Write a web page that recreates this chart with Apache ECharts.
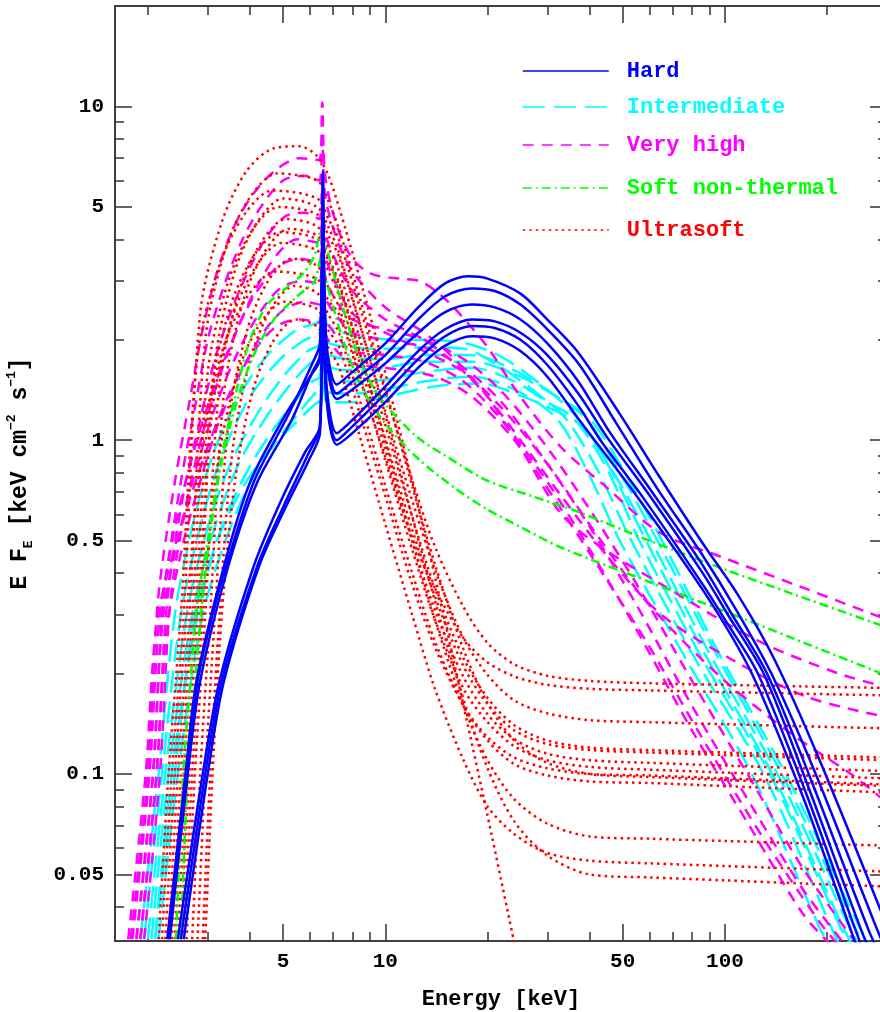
<!DOCTYPE html>
<html>
<head>
<meta charset="utf-8">
<title>Spectral states</title>
<script src="https://cdn.jsdelivr.net/npm/echarts@6/dist/echarts.min.js"></script>
<style>
  html, body { margin: 0; background: #fff; }
  #chart { width: 880px; height: 1012px; }
</style>
</head>
<body>
<div id="chart"></div>
<script>
// energy [keV], E F_E [keV cm^-2 s^-1]
const hardSpectra = [
  [[2.3,0.032],[2.6,0.1],[2.8,0.19],[3.1,0.3],[3.4,0.42],[4.1,0.75],[5.2,1.2],[6.1,1.7],[6.42,1.95],[6.55,6.4],[6.7,2.0],[7.2,1.47],[8,1.6],[10,1.95],[12.5,2.5],[15,2.95],[17.5,3.1],[20,3.05],[25,2.75],[30,2.3],[37,1.83],[49,1.2],[64,0.78],[85,0.5],[110,0.34],[140,0.22],[190,0.11],[300,0.035]],
  [[2.32,0.032],[2.62,0.1],[2.85,0.19],[3.45,0.42],[4.2,0.75],[5.3,1.15],[6.1,1.6],[6.42,1.8],[6.55,5.0],[6.7,1.9],[7.2,1.38],[8,1.5],[10,1.8],[12.5,2.3],[15,2.7],[18,2.85],[21,2.8],[25,2.55],[30,2.15],[37,1.7],[48,1.12],[63,0.72],[85,0.46],[108,0.31],[137,0.2],[185,0.1],[275,0.036],[300,0.029]],
  [[2.28,0.032],[2.58,0.1],[2.78,0.19],[3.35,0.42],[4.0,0.75],[5.1,1.2],[6.0,1.55],[6.42,1.75],[6.55,4.5],[6.7,1.8],[7.2,1.33],[8,1.42],[10,1.7],[12.5,2.1],[15,2.42],[18,2.55],[21,2.5],[25,2.3],[30,1.95],[37,1.5],[46,1.05],[61,0.7],[85,0.43],[105,0.3],[133,0.2],[180,0.095],[265,0.034],[290,0.028]],
  [[2.5,0.032],[2.95,0.1],[3.3,0.19],[4.2,0.42],[5.0,0.63],[5.9,0.9],[6.42,1.1],[6.55,3.6],[6.7,1.5],[7.2,1.05],[8,1.15],[10,1.45],[12.5,1.85],[15,2.15],[18,2.3],[21,2.27],[25,2.1],[30,1.8],[37,1.38],[45,1.02],[59,0.7],[86,0.4],[102,0.3],[130,0.2],[177,0.09],[255,0.033],[280,0.027]],
  [[2.45,0.032],[2.9,0.1],[3.25,0.19],[4.1,0.42],[4.9,0.65],[5.8,0.92],[6.42,1.1],[6.55,3.2],[6.7,1.4],[7.2,1.0],[8,1.1],[10,1.38],[12.5,1.75],[15,2.05],[18,2.2],[21,2.17],[25,2.0],[30,1.68],[37,1.27],[43,1.0],[57,0.68],[86,0.37],[100,0.29],[125,0.2],[173,0.088],[248,0.032],[270,0.026]],
  [[2.55,0.032],[3.0,0.1],[3.35,0.19],[4.25,0.42],[5.05,0.62],[5.95,0.87],[6.42,1.05],[6.55,2.9],[6.7,1.35],[7.2,0.97],[8,1.05],[10,1.3],[12.5,1.65],[15,1.92],[18,2.05],[21,2.02],[25,1.85],[30,1.55],[37,1.16],[55,0.68],[87,0.35],[120,0.2],[170,0.085],[240,0.032],[260,0.026]]
];

const intermediateSpectra = [
  [[1.9,0.032],[2.15,0.1],[2.4,0.3],[2.7,0.55],[3.1,0.9],[3.7,1.35],[4.5,1.8],[5.5,2.15],[6.42,2.3],[6.55,4.2],[6.7,2.25],[7.5,2.1],[9,2.02],[12,2.0],[16,1.98],[21,1.82],[28,1.5],[37,1.16],[46,0.82],[58,0.51],[88,0.225],[140,0.097],[222,0.035],[240,0.03]],
  [[1.95,0.032],[2.2,0.1],[2.5,0.3],[2.85,0.55],[3.3,0.9],[4.0,1.35],[4.9,1.75],[5.8,2.0],[6.42,2.1],[6.55,3.5],[6.7,2.0],[8,1.9],[10,1.88],[13,1.9],[17,1.88],[22,1.65],[28,1.38],[34,1.16],[42,0.82],[53,0.5],[82,0.22],[130,0.1],[205,0.035],[220,0.03]],
  [[2.0,0.032],[2.25,0.1],[2.6,0.3],[3.0,0.55],[3.5,0.85],[4.2,1.2],[5.0,1.55],[5.9,1.85],[6.42,1.95],[6.55,3.0],[6.7,1.85],[8,1.75],[10,1.75],[13,1.8],[18,1.8],[24,1.62],[31,1.38],[39,1.16],[49,0.8],[62,0.52],[94,0.23],[150,0.096],[240,0.035],[260,0.03]],
  [[2.05,0.032],[2.3,0.1],[2.7,0.3],[3.15,0.55],[3.7,0.85],[4.4,1.15],[5.2,1.45],[6.0,1.7],[6.42,1.78],[6.55,2.6],[6.7,1.7],[8,1.62],[10,1.65],[13,1.72],[18,1.72],[25,1.55],[32,1.35],[40,1.16],[50,0.82],[64,0.52],[96,0.23],[155,0.095],[248,0.035],[265,0.031]],
  [[2.1,0.032],[2.35,0.1],[2.8,0.3],[3.3,0.55],[3.9,0.8],[4.6,1.05],[5.4,1.3],[6.1,1.5],[6.42,1.55],[6.55,2.4],[6.7,1.55],[8,1.5],[10,1.52],[13,1.6],[18,1.65],[24,1.5],[30,1.3],[36,1.16],[45,0.82],[56,0.5],[86,0.22],[137,0.098],[218,0.035],[235,0.03]],
  [[2.15,0.032],[2.45,0.1],[2.9,0.3],[3.5,0.55],[4.1,0.78],[4.8,1.0],[5.6,1.22],[6.2,1.38],[6.42,1.42],[6.55,2.2],[6.7,1.4],[8,1.38],[10,1.42],[13,1.5],[18,1.55],[24,1.42],[32,1.16],[40,0.78],[49,0.5],[77,0.22],[120,0.1],[189,0.035],[205,0.03]],
  [[2.1,0.032],[2.4,0.1],[2.75,0.3],[3.2,0.5],[3.8,0.72],[4.5,0.92],[5.4,1.12],[6.2,1.28],[6.42,1.32],[6.55,2.0],[6.7,1.3],[8,1.3],[10,1.35],[14,1.45],[19,1.48],[25,1.36],[32,1.22],[38,1.1],[47,0.8],[60,0.51],[91,0.225],[145,0.097],[232,0.035],[250,0.03]]
];

const veryHighSpectra = [
  [[1.78,0.032],[2.0,0.1],[2.14,0.33],[2.4,0.75],[2.65,1.3],[2.9,2.15],[3.2,3.2],[3.6,4.4],[4.1,5.5],[4.8,6.5],[5.6,7.0],[6.4,6.9],[6.52,10.3],[6.65,6.2],[7.2,4.4],[8.0,3.5],[9.1,3.15],[11,3.05],[12.6,3.0],[14.4,2.75],[16.5,2.4],[20,1.9],[25,1.35],[33,0.95],[45,0.72],[64,0.53],[96,0.45],[160,0.37],[300,0.29]],
  [[1.85,0.032],[2.07,0.1],[2.22,0.33],[2.5,0.75],[2.75,1.25],[3.0,2.0],[3.35,2.9],[3.8,4.0],[4.3,5.0],[5.0,6.0],[5.8,6.2],[6.4,6.0],[6.52,8.0],[6.65,5.4],[7.2,4.0],[8,3.2],[10,2.5],[13,2.1],[16,1.75],[20,1.35],[25,0.95],[33,0.6],[43,0.48],[65,0.37],[126,0.25],[216,0.2],[300,0.182]],
  [[1.9,0.032],[2.12,0.1],[2.28,0.33],[2.55,0.7],[2.85,1.15],[3.15,1.75],[3.55,2.5],[4.0,3.3],[4.5,4.1],[5.1,4.7],[5.8,4.8],[6.4,4.6],[6.52,6.3],[6.65,4.2],[7.2,3.4],[8,2.8],[10,2.3],[13,2.0],[16,1.7],[20,1.35],[25,1.0],[33,0.68],[45,0.45],[65,0.3],[105,0.22],[175,0.17],[300,0.148]],
  [[1.95,0.032],[2.17,0.1],[2.33,0.33],[2.6,0.65],[2.9,1.05],[3.25,1.55],[3.7,2.2],[4.2,2.9],[4.8,3.6],[5.5,4.0],[6.4,3.9],[6.52,5.2],[6.65,3.6],[7.2,2.9],[8,2.4],[10,2.1],[13,1.85],[17,1.6],[22,1.25],[30,0.85],[42,0.52],[60,0.32],[100,0.19],[160,0.13],[235,0.1],[300,0.082]],
  [[1.8,0.032],[2.02,0.1],[2.17,0.3],[2.45,0.6],[2.75,0.95],[3.1,1.4],[3.55,2.0],[4.1,2.7],[4.8,3.3],[5.6,3.5],[6.4,3.4],[6.52,4.6],[6.65,3.1],[7.2,2.6],[8,2.3],[10,2.15],[13,2.0],[17,1.75],[22,1.4],[30,0.95],[40,0.62],[55,0.37],[80,0.19],[120,0.095],[170,0.052],[250,0.03]],
  [[1.85,0.032],[2.07,0.1],[2.22,0.3],[2.5,0.55],[2.8,0.85],[3.15,1.25],[3.6,1.75],[4.2,2.35],[4.9,2.85],[5.7,3.0],[6.4,2.95],[6.52,3.9],[6.65,2.7],[7.2,2.35],[8,2.1],[10,2.0],[13,1.9],[17,1.65],[22,1.3],[30,0.85],[40,0.55],[55,0.32],[80,0.16],[120,0.08],[170,0.045],[230,0.03]],
  [[1.9,0.032],[2.12,0.1],[2.28,0.28],[2.55,0.5],[2.85,0.75],[3.2,1.1],[3.7,1.55],[4.3,2.05],[5.0,2.45],[5.8,2.6],[6.4,2.55],[6.52,3.4],[6.65,2.35],[7.2,2.05],[8,1.85],[10,1.8],[13,1.72],[17,1.5],[22,1.15],[30,0.75],[40,0.47],[55,0.27],[80,0.135],[120,0.068],[170,0.038],[210,0.03]],
  [[1.75,0.032],[1.97,0.1],[2.12,0.28],[2.4,0.48],[2.7,0.7],[3.05,1.0],[3.5,1.4],[4.1,1.85],[4.8,2.2],[5.6,2.3],[6.4,2.25],[6.52,3.0],[6.65,2.1],[7.2,1.85],[8,1.7],[10,1.65],[14,1.55],[18,1.35],[24,1.0],[32,0.65],[45,0.38],[60,0.24],[85,0.13],[130,0.064],[190,0.036],[220,0.03]]
];

const softNonThermalSpectra = [
  [[2.42,0.032],[2.54,0.1],[2.67,0.19],[2.8,0.33],[3.0,0.5],[3.3,0.9],[3.7,1.5],[4.0,2.0],[4.5,2.55],[5.2,2.9],[5.8,3.2],[6.2,3.6],[6.45,4.2],[6.7,3.8],[7.5,2.5],[8.4,1.75],[9.6,1.35],[12.3,1.03],[15,0.9],[19.8,0.76],[27,0.68],[37,0.61],[60,0.5],[100,0.41],[160,0.345],[300,0.275]],
  [[2.5,0.032],[2.62,0.1],[2.77,0.2],[2.95,0.4],[3.25,0.8],[3.65,1.3],[4.1,1.8],[4.7,2.3],[5.5,2.7],[6.2,3.0],[6.45,3.5],[6.7,3.0],[7.5,2.0],[8.5,1.45],[10,1.12],[12.5,0.88],[16,0.72],[20,0.62],[25,0.55],[32.5,0.48],[60,0.376],[100,0.307],[160,0.254],[300,0.197]]
];

const ultrasoftSpectra = [
  [[2.2,0.032],[2.35,0.1],[2.55,0.3],[2.85,2.4],[3.3,4.5],[3.9,6.4],[4.7,7.5],[5.6,7.6],[6.3,7.1],[6.8,6.2],[7.3,5.0],[8.5,2.94],[10,1.59],[12,0.75],[14,0.39],[17,0.16],[20,0.075],[24,0.031]],
  [[2.3,0.032],[2.45,0.1],[2.65,0.3],[2.95,2.0],[3.4,3.8],[4.0,5.35],[4.8,6.3],[6.3,6.0],[6.8,5.2],[7.3,4.3],[8.5,2.57],[10,1.43],[12,0.73],[14,0.425],[17,0.236],[20,0.163],[24,0.126],[30,0.108],[40,0.1],[60,0.098],[100,0.096],[170,0.094],[300,0.092]],
  [[2.15,0.032],[2.3,0.1],[2.5,0.3],[2.8,1.8],[3.25,3.35],[3.85,4.75],[4.65,5.6],[6.3,5.3],[6.8,4.6],[7.3,3.99],[8.5,2.42],[10,1.4],[12,0.76],[14,0.48],[17,0.316],[20,0.247],[24,0.213],[30,0.197],[40,0.19],[60,0.187],[100,0.185],[170,0.183],[300,0.181]],
  [[2.5,0.032],[2.65,0.1],[2.85,0.3],[3.15,1.7],[3.6,3.2],[4.2,4.5],[5.0,5.3],[6.3,5.0],[6.8,4.35],[7.3,3.65],[8.5,2.16],[10,1.19],[12,0.59],[14,0.33],[17,0.167],[20,0.104],[24,0.072],[30,0.057],[40,0.05],[60,0.049],[100,0.048],[170,0.047],[300,0.046]],
  [[2.35,0.032],[2.5,0.1],[2.7,0.3],[3.0,1.6],[3.45,3.0],[4.05,4.25],[4.85,5.0],[6.3,4.75],[6.8,4.1],[7.3,3.55],[8.5,2.14],[10,1.22],[12,0.66],[14,0.41],[17,0.255],[20,0.198],[24,0.166],[30,0.152],[40,0.145],[60,0.143],[100,0.141],[170,0.139],[300,0.137]],
  [[2.6,0.032],[2.75,0.1],[2.95,0.3],[3.25,1.47],[3.7,2.76],[4.3,3.9],[5.1,4.6],[6.3,4.37],[6.8,3.77],[7.3,3.22],[8.5,1.94],[10,1.11],[12,0.59],[14,0.36],[17,0.222],[20,0.169],[24,0.14],[30,0.126],[40,0.12],[60,0.118],[100,0.116],[170,0.114],[300,0.112]],
  [[2.7,0.032],[2.85,0.1],[3.05,0.3],[3.35,1.38],[3.8,2.58],[4.4,3.65],[5.2,4.3],[6.3,4.1],[6.8,3.53],[7.3,2.97],[8.5,1.77],[10,0.99],[12,0.5],[14,0.29],[17,0.16],[20,0.11],[24,0.084],[30,0.071],[40,0.065],[60,0.064],[100,0.063],[170,0.062],[300,0.061]],
  [[2.45,0.032],[2.6,0.1],[2.8,0.3],[3.1,1.25],[3.55,2.34],[4.15,3.3],[4.95,3.9],[6.3,3.7],[6.8,3.2],[7.3,2.72],[8.5,1.64],[10,0.94],[12,0.5],[14,0.31],[17,0.195],[20,0.151],[24,0.127],[30,0.115],[40,0.11],[60,0.108],[100,0.106],[170,0.104],[300,0.102]],
  [[2.8,0.032],[2.95,0.1],[3.15,0.3],[3.45,1.12],[3.9,2.1],[4.5,2.98],[5.3,3.5],[6.3,3.33],[6.8,2.87],[7.3,2.51],[8.5,1.51],[10,0.87],[12,0.47],[14,0.29],[17,0.18],[20,0.143],[24,0.121],[30,0.11],[40,0.105],[60,0.103],[100,0.101],[170,0.099],[300,0.097]],
  [[2.25,0.032],[2.4,0.1],[2.6,0.3],[2.9,1.02],[3.35,1.92],[3.95,2.72],[4.75,3.2],[6.3,3.04],[6.8,2.62],[7.3,2.39],[8.5,1.48],[10,0.89],[12,0.51],[14,0.36],[17,0.255],[20,0.216],[24,0.196],[30,0.185],[40,0.18],[60,0.178],[100,0.176],[170,0.174],[300,0.172]],
  [[2.9,0.032],[3.05,0.1],[3.25,0.3],[3.55,0.93],[4.0,1.74],[4.6,2.47],[5.4,2.9],[6.3,2.76],[6.8,2.38],[7.3,2.1],[8.5,1.27],[10,0.73],[12,0.4],[14,0.25],[17,0.16],[20,0.126],[24,0.107],[30,0.099],[40,0.095],[60,0.094],[100,0.092],[170,0.09],[300,0.088]],
  [[2.55,0.032],[2.7,0.1],[2.9,0.3],[3.2,0.83],[3.65,1.56],[4.25,2.21],[5.05,2.6],[6.3,2.47],[6.8,2.13],[7.3,1.91],[8.5,1.16],[10,0.68],[12,0.37],[14,0.24],[17,0.16],[20,0.129],[24,0.112],[30,0.104],[40,0.1],[60,0.099],[100,0.097],[170,0.095],[300,0.093]],
  [[2.95,0.032],[3.1,0.1],[3.3,0.3],[3.6,0.74],[4.05,1.38],[4.65,1.96],[5.45,2.3],[6.3,2.19],[6.8,1.89],[7.3,1.66],[8.5,0.99],[10,0.56],[12,0.3],[14,0.18],[17,0.11],[20,0.08],[24,0.066],[30,0.058],[40,0.055],[60,0.054],[100,0.053],[170,0.052],[300,0.051]],
  [[2.4,0.032],[2.55,0.1],[2.75,0.3],[3.05,1.34],[3.5,2.52],[4.1,3.57],[4.9,4.2],[6.3,4.0],[6.8,3.44],[7.3,2.92],[8.5,1.76],[10,1.01],[12,0.54],[14,0.34],[17,0.21],[20,0.162],[24,0.135],[30,0.123],[40,0.118],[60,0.116],[100,0.114],[170,0.112],[300,0.11]]
];

const stateNames = ['Hard', 'Intermediate', 'Very high', 'Soft non-thermal', 'Ultrasoft'];
const xMajorTicks = [5, 10, 50, 100];
const xMinorTicks = [2, 3, 4, 6, 7, 8, 9, 20, 30, 40, 60, 70, 80, 90, 200];
const yMajorTicks = [0.05, 0.1, 0.5, 1, 5, 10];
const yMinorTicks = [0.04, 0.06, 0.07, 0.08, 0.09, 0.2, 0.3, 0.4, 0.6, 0.7, 0.8, 0.9, 2, 3, 4, 6, 7, 8, 9];

const xRange = [1.6, 300];
const yRange = [0.0316, 20];
const mono = '"Liberation Mono", "DejaVu Sans Mono", monospace';
const frame = '#333';

const styles = {
  'Hard':             { color: '#0000ff', type: 'solid' },
  'Intermediate':     { color: '#00ffff', type: [22, 9] },
  'Very high':        { color: '#ff00ff', type: [11, 8] },
  'Soft non-thermal': { color: '#00ff00', type: [9, 4, 2, 4] },
  'Ultrasoft':        { color: '#ff0000', type: [2.5, 4] }
};
// legend rows are not evenly spaced in the original
const legendRowTop = [60, 96, 134, 177, 219];

// drawing order: cyan, magenta, red, green, blue on top
const drawOrder = [
  ['Intermediate', intermediateSpectra],
  ['Very high', veryHighSpectra],
  ['Ultrasoft', ultrasoftSpectra],
  ['Soft non-thermal', softNonThermalSpectra],
  ['Hard', hardSpectra]
];

const series = [];
drawOrder.forEach(([name, list]) => {
  const st = styles[name];
  list.forEach(spec => {
    series.push({
      type: 'line',
      name: name,
      data: spec,
      symbol: 'none',
      smooth: 0.3,
      silent: true,
      clip: true,
      xAxisIndex: 0,
      yAxisIndex: 0,
      lineStyle: { color: st.color, width: 2.5, type: st.type },
      itemStyle: { color: st.color }
    });
  });
});

const fmt = v => String(+Number(v).toPrecision(2));

function logAxis(position, range, ticks, len, extra) {
  return Object.assign({
    type: 'log',
    logBase: 10,
    position: position,
    min: range[0],
    max: range[1],
    axisLine: { show: true, onZero: false, lineStyle: { color: frame, width: 1.5 } },
    axisTick: { show: true, inside: true, length: len, customValues: ticks, lineStyle: { color: frame, width: 1.5 } },
    axisLabel: { show: false },
    splitLine: { show: false },
    minorTick: { show: false }
  }, extra || {});
}

const legends = stateNames.map((n, i) => ({
  orient: 'vertical',
  left: 522,
  top: legendRowTop[i],
  padding: 0,
  itemWidth: 86,
  itemHeight: 22,
  lineStyle: { width: 1.5 },
  itemStyle: { color: 'rgba(0,0,0,0)', borderColor: 'rgba(0,0,0,0)', borderWidth: 0 },
  textStyle: { fontFamily: mono, fontSize: 22, fontWeight: 'bold', color: styles[n].color, padding: [0, 0, 0, 13] },
  data: [n],
  selectedMode: false
}));

const chart = echarts.init(document.getElementById('chart'), null, { renderer: 'canvas' });

chart.setOption({
  animation: false,
  backgroundColor: '#fff',
  textStyle: { fontFamily: mono },
  grid: { left: 115, right: -7, top: 6, bottom: 71, containLabel: false, outerBoundsMode: 'none' },
  legend: legends,
  xAxis: [
    logAxis('bottom', xRange, xMajorTicks, 17, {
      name: 'Energy [keV]',
      nameLocation: 'middle',
      nameGap: 47,
      nameTextStyle: { fontFamily: mono, fontSize: 22, fontWeight: 'bold', color: '#000' },
      axisLabel: { show: true, customValues: xMajorTicks, formatter: fmt, margin: 10,
                   fontFamily: mono, fontSize: 21, fontWeight: 'bold', color: '#000' }
    }),
    logAxis('bottom', xRange, xMinorTicks, 9),
    logAxis('top', xRange, xMajorTicks, 17),
    logAxis('top', xRange, xMinorTicks, 9)
  ],
  yAxis: [
    logAxis('left', yRange, yMajorTicks, 17, {
      name: '{t|E F}{s|E}{t| [keV cm}{p|−2}{t| s}{p|−1}{t|]}',
      nameLocation: 'middle',
      nameGap: 80,
      nameRotate: 90,
      nameTextStyle: {
        color: '#000',
        rich: {
          t: { fontFamily: mono, fontSize: 23, fontWeight: 'bold', color: '#000', lineHeight: 30 },
          s: { fontFamily: mono, fontSize: 13, fontWeight: 'bold', color: '#000', lineHeight: 30, verticalAlign: 'bottom' },
          p: { fontFamily: mono, fontSize: 13, fontWeight: 'bold', color: '#000', lineHeight: 30, verticalAlign: 'top' }
        }
      },
      axisLabel: { show: true, customValues: yMajorTicks, formatter: fmt, margin: 11,
                   fontFamily: mono, fontSize: 21, fontWeight: 'bold', color: '#000' }
    }),
    logAxis('left', yRange, yMinorTicks, 9),
    logAxis('right', yRange, yMajorTicks, 17),
    logAxis('right', yRange, yMinorTicks, 9)
  ],
  series: series
});
</script>
</body>
</html>
